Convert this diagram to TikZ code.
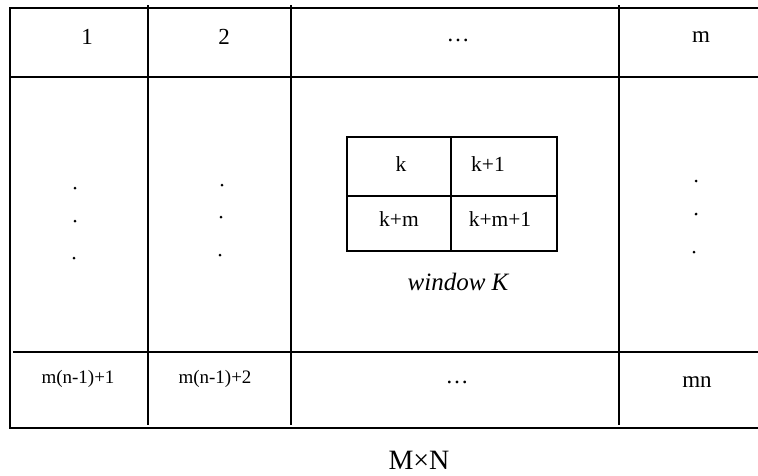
\documentclass[tikz,border=0pt]{standalone}
\usepackage{fontspec}
\setmainfont{Liberation Serif}
\begin{document}
\begin{tikzpicture}[x=1pt,y=-1pt,
  grid/.style={line width=1.2pt,black},
  lbl/.style={inner sep=0pt,font=\fontsize{23}{26}\selectfont},
  small/.style={inner sep=0pt,font=\fontsize{19}{22}\selectfont},
  win/.style={inner sep=0pt,font=\fontsize{21.5}{24}\selectfont},
  vdot/.style={circle,fill=black,inner sep=0pt,minimum size=3pt}]
\useasboundingbox (0,0) rectangle (758,475);
% outer frame
\draw[grid] (758,8) -- (10,8) -- (10,428) -- (758,428);
\draw[grid] (10,77) -- (758,77);
\draw[grid] (13,352) -- (758,352);
\draw[grid] (148,5) -- (148,425);
\draw[grid] (291,5) -- (291,425);
\draw[grid] (619,5) -- (619,425);
% window
\draw[grid] (347,137) rectangle (557,251);
\draw[grid] (451,137) -- (451,251);
\draw[grid] (347,196) -- (557,196);
% top row
\node[lbl] (c1) at (87,37) {1};
\node[lbl] (c2) at (224,37) {2};
\node[lbl] (c3) at (458,40) {\dots};
\node[lbl] (c4) at (701,37) {m};
% dots
\node[vdot] (d11) at (75,188) {};
\node[vdot] (d12) at (75,221) {};
\node[vdot] (d13) at (74,258) {};
\node[vdot] (d21) at (222,185) {};
\node[vdot] (d22) at (221,217) {};
\node[vdot] (d23) at (220,255) {};
\node[vdot] (d31) at (696,181) {};
\node[vdot] (d32) at (696,214) {};
\node[vdot] (d33) at (694,252) {};
% window labels
\node[win] (wk) at (401,164) {k};
\node[win] (wk1) at (488,164) {k+1};
\node[win] (wkm) at (399,219) {k+m};
\node[win] (wkm1) at (500,219) {k+m+1};
\node[inner sep=0pt,font=\fontsize{25}{28}\selectfont\itshape] (wn) at (458,282) {window K};
% bottom row
\node[small] (b1) at (78,379) {m(n-1)+1};
\node[small] (b2) at (215,379) {m(n-1)+2};
\node[lbl] (b3) at (457,382) {\dots};
\node[lbl] (b4) at (697,382) {mn};
\node[inner sep=0pt,font=\fontsize{28}{31}\selectfont] (mn) at (419,460) {M×N};
\end{tikzpicture}
\end{document}
